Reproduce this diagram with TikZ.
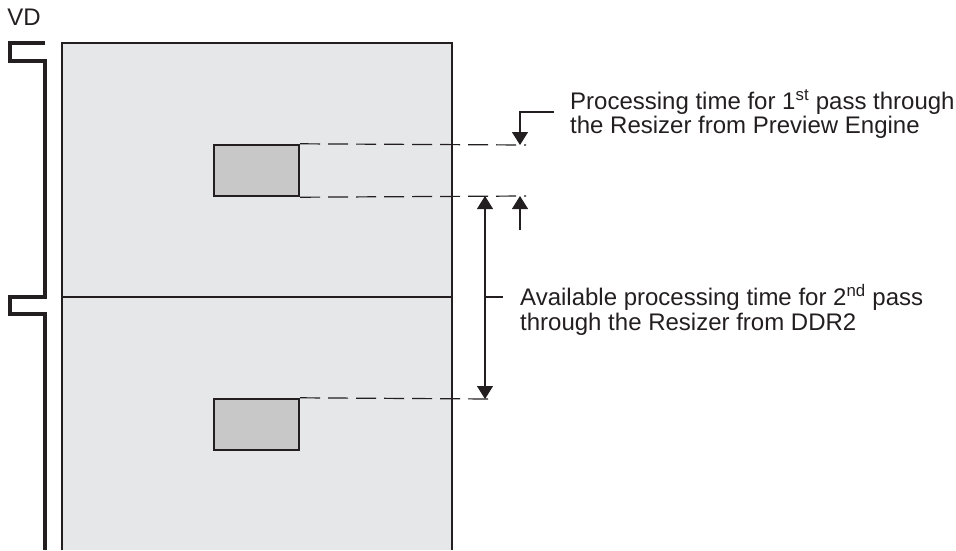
\documentclass[tikz,border=0pt]{standalone}
\usepackage{fontspec}
\setmainfont{Liberation Sans}
\usetikzlibrary{arrows.meta}
\definecolor{framegray}{RGB}{230,231,233}
\definecolor{blockgray}{RGB}{200,200,201}
\definecolor{inkgray}{RGB}{35,31,32}

\begin{document}
\begin{tikzpicture}[
        x=1pt, y=-1pt, % one unit = one pixel of the grid
        font=\fontsize{24}{24.5}\selectfont,
        frame/.style={draw=inkgray, line width=2.4pt},
        block/.style={rectangle, draw=inkgray, line width=2.4pt, fill=blockgray, minimum width=85pt, minimum height=51pt, inner sep=0pt},
        guide/.style={draw=inkgray, line width=1.2pt, dash pattern=on 20pt off 8pt},
        dim/.style={draw=inkgray, line width=1.1pt},
        tip/.style={-{Triangle[width=16pt,length=13pt]}},
        note/.style={anchor=west, align=left, inner sep=0pt, text=inkgray}
    ]
    \useasboundingbox (0,0) rectangle (956,550);

    % Frame area (two fields)
    \fill[framegray] (62,43) rectangle (452,550);
    \draw[frame] (62,550) -- (62,43) -- (452,43) -- (452,550);
    \draw[frame] (62,297) -- (452,297);

    % VD signal
    \node[text=inkgray] (vd) at (24,17) {VD};
    \draw[draw=inkgray, line width=3.5pt] (45,43) -- (10,43) -- (10,61) -- (45,61) -- (45,297)
        -- (10,297) -- (10,314) -- (45,314) -- (45,550);

    % Resizer blocks
    \node[block] (blk1) at (256.5,170.5) {};
    \node[block] (blk2) at (256.5,424.5) {};

    % Dashed time marks
    \coordinate (m1) at (526,145);
    \coordinate (m2) at (526,196);
    \coordinate (m3) at (490,399);
    \draw[guide] (blk1.north east) -- (m1);
    \draw[guide] (blk1.south east) -- (m2);
    \draw[guide] (blk2.north east) -- (m3);

    % 1st pass markers
    \coordinate (k1) at (554,112);
    \coordinate (k2) at (520,112);
    \coordinate (p1) at (520,145);
    \coordinate (p2) at (520,196);
    \coordinate (p3) at (520,230);
    \draw[dim, tip] (k1) -- (k2) -- (p1);
    \draw[dim, tip] (p3) -- (p2);

    % 2nd pass span
    \coordinate (s1) at (485,196);
    \coordinate (s2) at (485,399);
    \coordinate (s3) at (485,297);
    \coordinate (s4) at (503,297);
    \draw[dim, {Triangle[width=16pt,length=13pt]}-{Triangle[width=16pt,length=13pt]}] (s1) -- (s2);
    \draw[dim] (s3) -- (s4);

    % Labels
    \node[note] (first) at (570,114) {Processing time for 1\textsuperscript{st} pass through\\the Resizer from Preview Engine};
    \node[note] (second) at (520,310) {Available processing time for 2\textsuperscript{nd} pass\\through the Resizer from DDR2};

\end{tikzpicture}
\end{document}
